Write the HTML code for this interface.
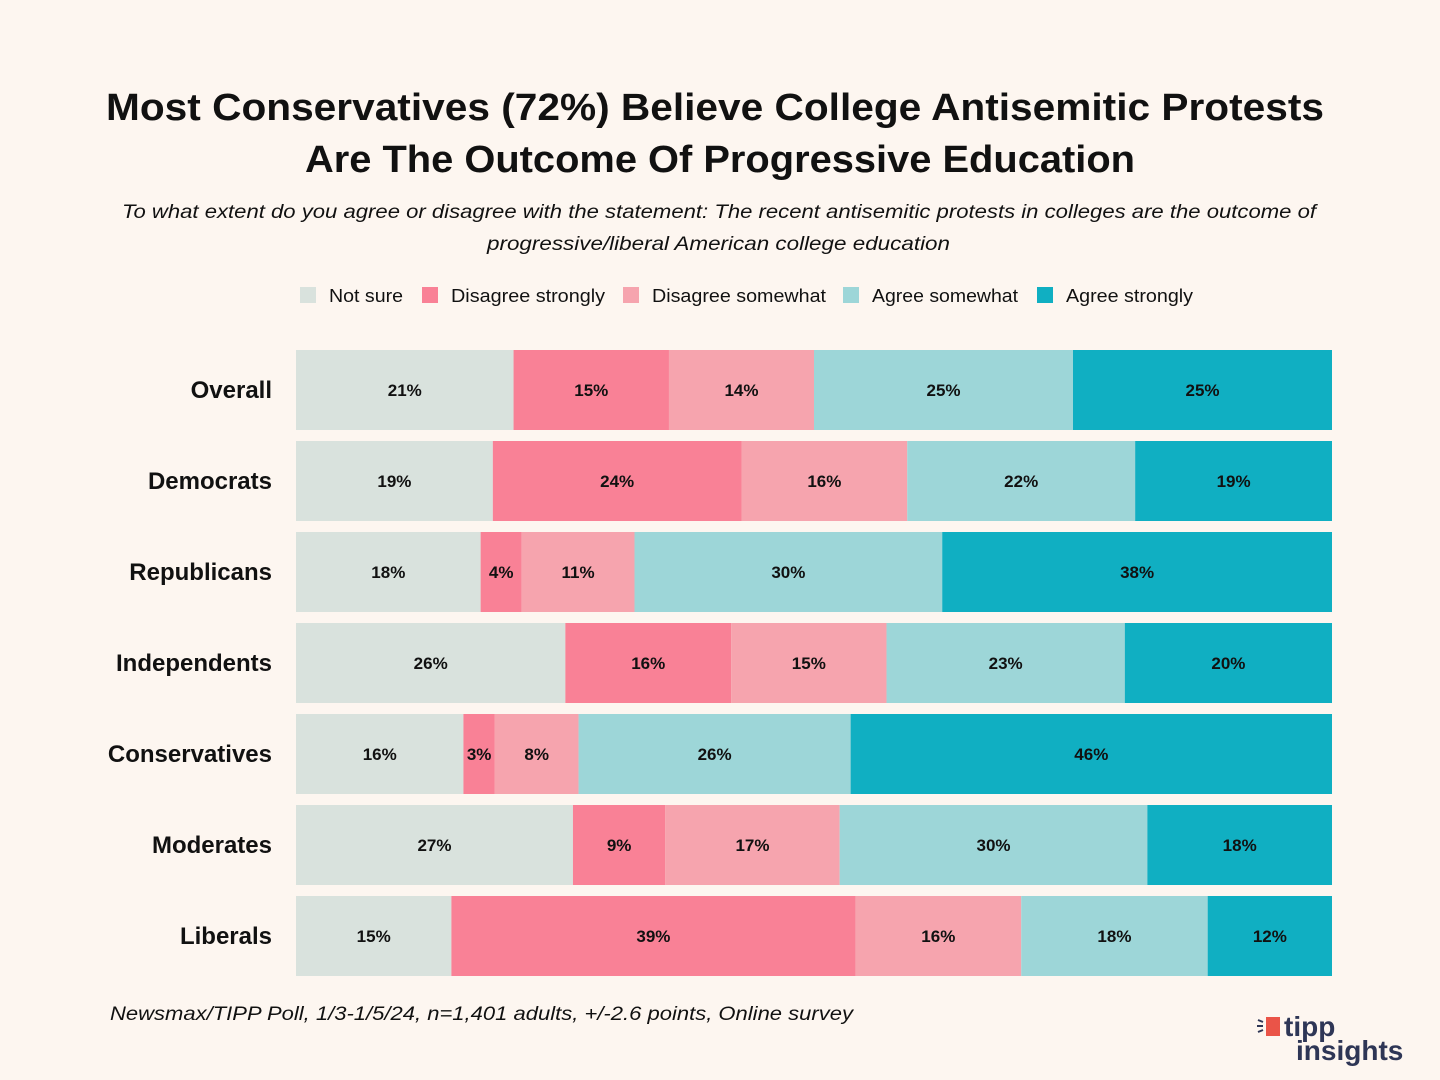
<!DOCTYPE html>
<html><head><meta charset="utf-8"><style>
body{margin:0;background:#fdf6f0;font-family:"Liberation Sans",sans-serif}
#wrap{position:relative;width:1440px;height:1080px;overflow:hidden}
</style></head><body><div id="wrap">
<svg id="chart" width="1440" height="1080">
<rect width="1440" height="1080" fill="#fdf6f0"/>
<text x="106" y="120" textLength="1218" lengthAdjust="spacingAndGlyphs" font-size="38" font-weight="bold" fill="#111">Most Conservatives (72%) Believe College Antisemitic Protests</text>
<text x="305" y="172" textLength="830" lengthAdjust="spacingAndGlyphs" font-size="38" font-weight="bold" fill="#111">Are The Outcome Of Progressive Education</text>
<text x="122" y="218" textLength="1194" lengthAdjust="spacingAndGlyphs" font-size="19" font-style="italic" fill="#111">To what extent do you agree or disagree with the statement: The recent antisemitic protests in colleges are the outcome of</text>
<text x="487" y="250" textLength="463" lengthAdjust="spacingAndGlyphs" font-size="19" font-style="italic" fill="#111">progressive/liberal American college education</text>
<g id="legend"></g>
<g id="bars"></g>
<text x="110" y="1020" textLength="743" lengthAdjust="spacingAndGlyphs" font-size="19" font-style="italic" fill="#111">Newsmax/TIPP Poll, 1/3-1/5/24, n=1,401 adults, +/-2.6 points, Online survey</text>
<g>
<rect x="1266" y="1017" width="14" height="19" fill="#ea5448"/>
<path d="M1258 1020 l5 2 M1257 1026 h6 M1258 1032 l5 -2" stroke="#2e3656" stroke-width="2"/>
<text x="1284" y="1036" font-size="28" font-weight="bold" fill="#2e3656">tipp</text>
<text x="1296" y="1060" font-size="28" font-weight="bold" fill="#2e3656">insights</text>
</g>
</svg></div>
<script>
const categories=["Overall","Democrats","Republicans","Independents","Conservatives","Moderates","Liberals"];
const seriesNames=["Not sure","Disagree strongly","Disagree somewhat","Agree somewhat","Agree strongly"];
const notSure=[21,19,18,26,16,27,15];
const disagreeStrongly=[15,24,4,16,3,9,39];
const disagreeSomewhat=[14,16,11,15,8,17,16];
const agreeSomewhat=[25,22,30,23,26,30,18];
const agreeStrongly=[25,19,38,20,46,18,12];
const series=[notSure,disagreeStrongly,disagreeSomewhat,agreeSomewhat,agreeStrongly];
const colors=["#d9e2dd","#f98196","#f6a4ae","#9dd6d8","#10afc2"];
const NS="http://www.w3.org/2000/svg";
const x0=296,x1=1332,y0=350,bh=80,step=91;
function xs(frac){return x0+frac*(x1-x0);}
function yb(i){return y0+i*step;}
const bars=document.getElementById('bars');
function mk(t,a,p){const e=document.createElementNS(NS,t);for(const k in a)e.setAttribute(k,a[k]);p.appendChild(e);return e;}
categories.forEach((c,i)=>{
  const tot=series.reduce((s,a)=>s+a[i],0);
  const lab=mk('text',{x:272,y:yb(i)+bh/2+8,'text-anchor':'end','font-size':24,'font-weight':'bold',fill:'#111'},bars);
  lab.textContent=c;
  
  
  let cum=0;
  series.forEach((s,j)=>{
    const a=xs(cum/tot),b=xs((cum+s[i])/tot);cum+=s[i];
    const r=mk('rect',{x:a,y:yb(i),width:b-a,height:bh,fill:colors[j]},bars);
    
    
    const t=mk('text',{x:(a+b)/2,y:yb(i)+bh/2+6,'text-anchor':'middle','font-size':17,'font-weight':'bold',fill:'#111'},bars);
    t.textContent=s[i]+'%';
    
    
  });
});
const lg=document.getElementById('legend');
const lx=[300,422,623,843,1037];
const lw=[74,154,174,146,127];
seriesNames.forEach((n,j)=>{
  const r=mk('rect',{x:lx[j],y:287,width:16,height:16,fill:colors[j]},lg);
  
  
  const t=mk('text',{x:lx[j]+29,y:302,'font-size':18,fill:'#111',textLength:lw[j],lengthAdjust:'spacingAndGlyphs'},lg);
  t.textContent=n;
  
  
});
</script></body></html>
